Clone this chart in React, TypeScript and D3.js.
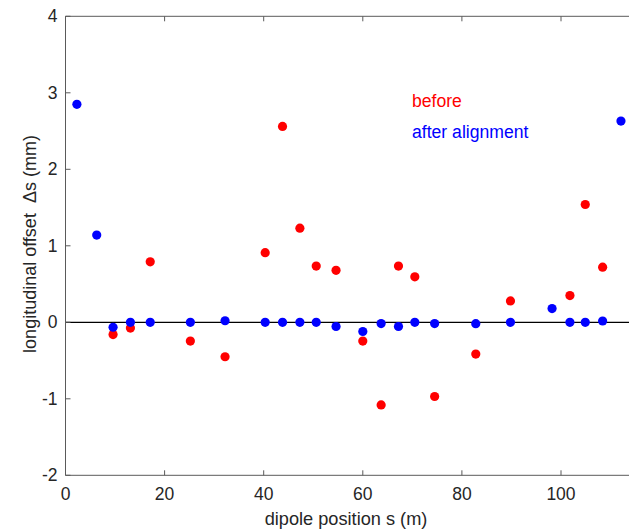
import React from "react";
import * as d3 from "d3";

const positions = [2.3, 6.3, 9.6, 13.1, 17.1, 25.2, 32.2, 40.3, 43.8, 47.3, 50.6, 54.6, 60.0, 63.7, 67.2, 70.5, 74.5, 82.8, 89.8, 98.2, 101.8, 104.9, 108.4, 112.1];
const afterValues = [2.85, 1.14, -0.065, 0, 0, 0, 0.02, 0, 0, 0, 0, -0.055, -0.12, -0.017, -0.055, 0, -0.017, -0.018, 0, 0.18, 0, 0, 0.017, 2.63];
const beforePositions = [9.6, 13.1, 17.1, 25.2, 32.2, 40.3, 43.8, 47.3, 50.6, 54.6, 60.0, 63.7, 67.2, 70.5, 74.5, 82.8, 89.8, 101.8, 104.9, 108.4];
const beforeValues = [-0.16, -0.075, 0.79, -0.245, -0.45, 0.91, 2.56, 1.23, 0.735, 0.68, -0.245, -1.08, 0.735, 0.595, -0.97, -0.415, 0.28, 0.35, 1.54, 0.72];
const xTicks = [0, 20, 40, 60, 80, 100];
const yTicks = [-2, -1, 0, 1, 2, 3, 4];

export default function App() {
  const W = 629, H = 531;
  const x = d3.scaleLinear().domain([0, 100]).range([65.5, 561]);
  const y = d3.scaleLinear().domain([-2, 4]).range([475.3, 16.3]);
  const left = x(0), right = 700, top = y(4), bottom = y(-2);
  const axisColor = "#5a5a5a";
  const font = "'Liberation Sans', Arial, sans-serif";
  return (
    <svg width={W} height={H} style={{ position: "absolute", left: 0, top: 0, display: "block" }} fontFamily={font}>
      <rect x={0} y={0} width={W} height={H} fill="#fff" />
      {/* zero line */}
      <line x1={left} x2={W} y1={y(0)} y2={y(0)} stroke="#000" strokeWidth={1.2} />
      {/* axes box */}
      <line x1={left} x2={right} y1={top} y2={top} stroke={axisColor} strokeWidth={1} />
      <line x1={left} x2={right} y1={bottom} y2={bottom} stroke={axisColor} strokeWidth={1} />
      <line x1={left} x2={left} y1={top} y2={bottom} stroke={axisColor} strokeWidth={1} />
      {xTicks.map((t) => (
        <g key={"xt" + t}>
          <line x1={x(t)} x2={x(t)} y1={bottom} y2={bottom - 5} stroke={axisColor} />
          <line x1={x(t)} x2={x(t)} y1={top} y2={top + 5} stroke={axisColor} />
          <text x={x(t)} y={bottom + 25} textAnchor="middle" fontSize={17.5} fill="#262626">{t}</text>
        </g>
      ))}
      {yTicks.map((t) => (
        <g key={"yt" + t}>
          <line x1={left} x2={left + 5} y1={y(t)} y2={y(t)} stroke={axisColor} />
          <text x={left - 8} y={y(t) + 6} textAnchor="end" fontSize={17.5} fill="#262626">{t}</text>
        </g>
      ))}
      <text x={346} y={525} textAnchor="middle" fontSize={18.2} fill="#262626">dipole position s (m)</text>
      <text transform={`translate(36,${244}) rotate(-90)`} textAnchor="middle" fontSize={18} fill="#262626" style={{ whiteSpace: "pre" }}>{"longitudinal offset  \u0394s (mm)"}</text>
      {beforePositions.map((p, i) => (
        <circle key={"b" + i} cx={x(p)} cy={y(beforeValues[i])} r={4.6} fill="#ff0000" />
      ))}
      {positions.map((p, i) => (
        <circle key={"a" + i} cx={x(p)} cy={y(afterValues[i])} r={4.6} fill="#0000ff" />
      ))}
      <text x={412} y={107} fontSize={17.6} fill="#ff0000">before</text>
      <text x={412} y={138} fontSize={17.6} fill="#0000ff">after alignment</text>
    </svg>
  );
}
